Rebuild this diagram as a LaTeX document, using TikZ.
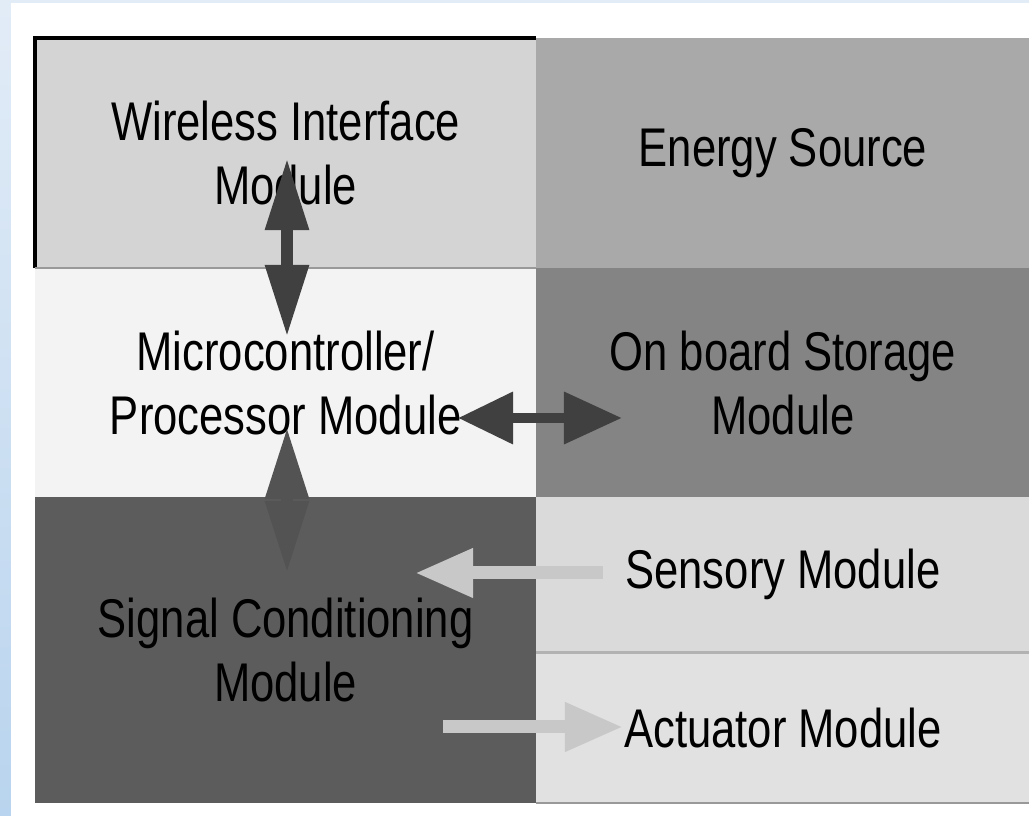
\documentclass[tikz,border=0pt]{standalone}
\usepackage{fontspec}
\setmainfont{Liberation Sans}[FakeStretch=0.8]
\usepackage{xcolor}
\definecolor{bandtop}{HTML}{E2ECF7}
\definecolor{bandbot}{HTML}{B9D4EE}
\definecolor{wireless}{HTML}{D4D4D4}
\definecolor{energy}{HTML}{A9A9A9}
\definecolor{micro}{HTML}{F3F3F3}
\definecolor{storage}{HTML}{848484}
\definecolor{signal}{HTML}{5C5C5C}
\definecolor{sensory}{HTML}{DADADA}
\definecolor{actuator}{HTML}{E1E1E1}
\definecolor{arrowdark}{HTML}{404040}
\definecolor{arrowlight}{HTML}{C8C8C8}
\usetikzlibrary{arrows.meta,positioning}

\begin{document}
\begin{tikzpicture}[x=0.01cm,y=-0.01cm,
  mod/.style={inner sep=0pt,outer sep=0pt,align=center,font=\fontsize{15.5pt}{18.2pt}\selectfont},
  lmod/.style={mod,minimum width=5.01cm},
  rmod/.style={mod,minimum width=4.93cm},
  dblarrow/.style={draw=arrowdark,line width=0.12cm,{Triangle[length=0.72cm,width=0.41cm]}-{Triangle[length=0.72cm,width=0.41cm]}},
  sidearrow/.style={draw=arrowdark,line width=0.10cm,{Triangle[length=0.55cm,width=0.50cm]}-{Triangle[length=0.58cm,width=0.50cm]}},
  lightarrow/.style={draw=arrowlight,line width=0.13cm,-{Triangle[length=0.58cm,width=0.46cm]}}]
  \fill[white] (0,0) rectangle (1029,816);
  \shade[top color=bandtop,bottom color=bandbot] (0,0) rectangle (11,816);
  \fill[bandtop] (0,0) rectangle (1029,3);
  \useasboundingbox (0,0) rectangle (1029,816);

  \node[lmod,fill=wireless,minimum height=2.30cm,anchor=north west] (wim) at (35,38) {Wireless Interface\\Module};
  \node[rmod,fill=energy,minimum height=2.30cm,right=0pt of wim] (ene) {Energy Source};
  \node[lmod,fill=micro,minimum height=2.29cm,below=0pt of wim] (mcu) {Microcontroller/\\Processor Module};
  \node[rmod,fill=storage,minimum height=2.29cm,below=0pt of ene] (sto) {On board Storage\\Module};
  \node[lmod,fill=signal,minimum height=3.06cm,below=0pt of mcu] (sig) {Signal Conditioning\\Module};
  \node[rmod,fill=sensory,minimum height=1.55cm,below=0pt of sto] (sen) {Sensory Module};
  \node[rmod,fill=actuator,minimum height=1.51cm,below=0pt of sen] (act) {Actuator Module};

  \draw[line width=0.04cm] (wim.south west) -- (wim.north west) -- (wim.north east);
  \draw[black!40,line width=0.02cm] (wim.south west) -- (wim.south east);
  \draw[black!30,line width=0.03cm] (sen.south west) -- (sen.south east);
  \draw[black!40,line width=0.02cm] (act.south west) -- (act.south east);

  \coordinate (wimEnd) at (287,158);
  \coordinate (mcuTop) at (287,337);
  \coordinate (mcuBot) at (287,427);
  \coordinate (sigTop) at (287,573);
  \coordinate (mcuRight) at (458,418);
  \coordinate (stoLeft) at (622,418);
  \coordinate (senStart) at (603,573);
  \coordinate (sigSen) at (415,573);
  \coordinate (sigAct) at (443,727);
  \coordinate (actEnd) at (623,727);

  \draw[dblarrow] (wimEnd) -- (mcuTop);
  \draw[dblarrow,draw=arrowdark!90] (mcuBot) -- (sigTop);
  \draw[sidearrow] (mcuRight) -- (stoLeft);
  \draw[lightarrow] (senStart) -- (sigSen);
  \draw[lightarrow] (sigAct) -- (actEnd);
\end{tikzpicture}
\end{document}
